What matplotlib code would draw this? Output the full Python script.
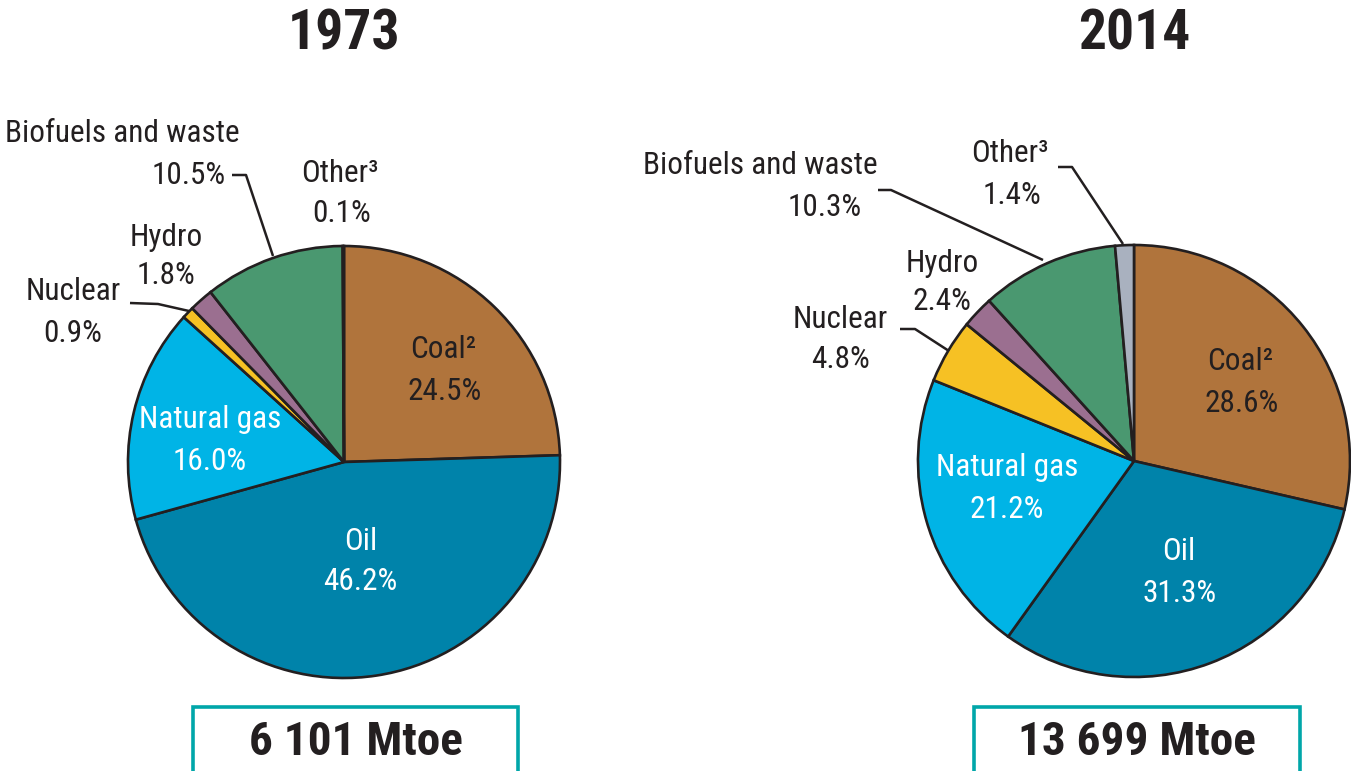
import matplotlib
matplotlib.use("Agg")
import matplotlib.pyplot as plt
from matplotlib.patches import Rectangle
from matplotlib import font_manager as fm

W, H = 1351, 771

categories = ["Coal²", "Oil", "Natural gas", "Nuclear", "Hydro", "Biofuels and waste", "Other³"]
share_1973 = [24.5, 46.2, 16.0, 0.9, 1.8, 10.5, 0.1]
share_2014 = [28.6, 31.3, 21.2, 4.8, 2.4, 10.3, 1.4]
years = ["1973", "2014"]
totals = ["6 101 Mtoe", "13 699 Mtoe"]
colors = ["#B0743C", "#0083AA", "#00B4E6", "#F6C124", "#9B6F90", "#4A9870", "#A9B1BF"]

names = {f.name for f in fm.fontManager.ttflist}
FAM = ["DejaVu Sans"]
for cand in ["Liberation Sans Narrow", "Arial Narrow", "Roboto Condensed", "PT Sans Narrow",
             "Archivo Narrow", "Open Sans Condensed"]:
    if cand in names:
        FAM = [cand, "DejaVu Sans"]
        break

fig = plt.figure(figsize=(W / 100, H / 100), dpi=100)
ax = fig.add_axes([0, 0, 1, 1])

def Y(y):
    return H - y

centers = [(344, 462), (1134, 461)]
R = 216

for data, (cx, cy) in zip([share_1973, share_2014], centers):
    ax.pie(data, colors=colors, startangle=90, counterclock=False,
           center=(cx, Y(cy)), radius=R, normalize=True,
           wedgeprops=dict(edgecolor="#231F20", linewidth=1.9))

ax.set_xlim(0, W)
ax.set_ylim(0, H)
ax.set_aspect("equal")
ax.axis("off")

fs = 22.5
txt = dict(family=FAM, fontsize=fs, color="#231F20", ha="center", va="center")

def label(x, y, s, **kw):
    d = dict(txt)
    d.update(kw)
    ax.text(x, Y(y), s, **d)

def two(x1, y1, x2, y2, name, val, **kw):
    label(x1, y1, name, **kw)
    label(x2, y2, f"{val}%", **kw)

def line(pts):
    ax.plot([p[0] for p in pts], [Y(p[1]) for p in pts], color="#231F20", lw=1.8,
            solid_capstyle="butt")

# Titles
for (cx, cy), yr in zip(centers, years):
    ax.text(cx, Y(35), yr, family=FAM, fontsize=40, fontweight="bold", color="#231F20",
            ha="center", va="center")

# Boxes
boxes = [(193, 707, 325, 70), (974, 707, 326, 70)]
for (bx, by, bw, bh), t in zip(boxes, totals):
    ax.add_patch(Rectangle((bx, Y(by + bh)), bw, bh, facecolor="white",
                           edgecolor="#00A6A9", lw=2.6, clip_on=False))
    ax.text(bx + bw / 2, Y(742), t, family=FAM, fontsize=34, fontweight="bold",
            color="#231F20", ha="center", va="center")

# 1973 in-pie labels
two(443, 350, 445, 391, categories[0], share_1973[0])
two(361, 541, 360, 582, categories[1], share_1973[1], color="white")
two(210, 420, 210, 461, categories[2], share_1973[2], color="white")
# 1973 outside labels
label(122, 133, categories[5])
label(226, 176, f"{share_1973[5]}%", ha="right")
line([(232, 175), (246, 175), (273, 256)])
two(340, 173, 342, 213, categories[6], share_1973[6])
two(166, 237, 166, 275, categories[4], share_1973[4])
two(73, 291, 73, 333, categories[3], share_1973[3])
line([(130, 303), (158, 304), (189, 311)])

# 2014 in-pie labels
two(1240, 362, 1242, 403, categories[0], share_2014[0])
two(1179, 551, 1180, 593, categories[1], share_2014[1], color="white")
two(1007, 468, 1007, 509, categories[2], share_2014[2], color="white")
# 2014 outside labels
label(760, 165, categories[5])
label(862, 208, f"{share_2014[5]}%", ha="right")
line([(878, 190), (891, 190), (1043, 260)])
two(1010, 154, 1012, 196, categories[6], share_2014[6])
line([(1058, 167), (1072, 167), (1123, 244)])
two(942, 263, 942, 302, categories[4], share_2014[4])
two(840, 319, 840, 360, categories[3], share_2014[3])
line([(900, 329), (915, 329), (949, 351)])

fig.savefig("out.png", dpi=100)
